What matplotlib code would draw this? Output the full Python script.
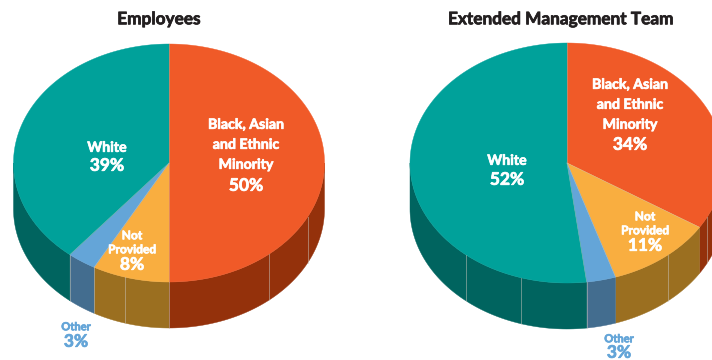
import numpy as np
import matplotlib
matplotlib.use("Agg")
import matplotlib.pyplot as plt
import matplotlib.patheffects as pe

# Share of each group, clockwise from 12 o'clock
GROUPS = ["Black, Asian and Ethnic Minority", "Not Provided", "Other", "White"]
EMPLOYEES = [50, 8, 3, 39]
MANAGEMENT = [34, 11, 3, 52]

TOP_COLORS = ["#f05a28", "#f9ae40", "#64a5d8", "#00a19a"]
SIDE_COLORS = ["#94310b", "#9b6f20", "#436d8f", "#00645f"]
SEAM = "#c9c4bb"
DEPTH = 46

plt.rcParams["font.family"] = ["Lato", "DejaVu Sans"]

fig = plt.figure(figsize=(7.12, 3.6), dpi=100)
ax = fig.add_axes([0, 0, 1, 1])
ax.set_xlim(0, 712)
ax.set_ylim(360, 0)
ax.axis("off")


def rim(cx, cy, rx, ry, deg):
    """Point(s) on the top ellipse, angle in degrees clockwise from the top."""
    t = np.radians(deg)
    return cx + rx * np.sin(t), cy - ry * np.cos(t)


def draw_pie(values, cx, cy, rx, ry, seams):
    angles = np.concatenate([[0], np.cumsum(values) * 3.6])

    # side wall first, only the front half of the rim is visible
    for i in range(len(values)):
        a0, a1 = max(angles[i], 90), min(angles[i + 1], 270)
        if a1 <= a0:
            continue
        x, y = rim(cx, cy, rx, ry, np.linspace(a0, a1, 80))
        ax.fill(np.r_[x, x[::-1]], np.r_[y, y[::-1] + DEPTH],
                color=SIDE_COLORS[i], lw=0.3, zorder=1)

    # top face
    for i in range(len(values)):
        x, y = rim(cx, cy, rx, ry, np.linspace(angles[i], angles[i + 1], 160))
        ax.fill(np.r_[cx, x], np.r_[cy, y], color=TOP_COLORS[i], lw=0.3, zorder=2)
        ax.plot([cx, x[0]], [cy, y[0]], color=SEAM, lw=0.4, alpha=0.6, zorder=3)

    # faint vertical joins on the wall
    for deg in seams:
        x, y = rim(cx, cy, rx, ry, deg)
        ax.plot([x, x], [y, y + DEPTH], color=SEAM, lw=0.6, alpha=0.6, zorder=3)


def label(x, y, text, size=10.2, color="white"):
    # stroke in the text colour, the installed Lato is lighter than the heading weight
    ax.text(x, y + 0.8, text, ha="center", va="center", fontsize=size, fontweight="bold",
            color=color, zorder=4,
            path_effects=[pe.withStroke(linewidth=0.5, foreground=color)])


# Employees
draw_pie(EMPLOYEES, 169, 163, 155.5, 119, [180, 208.8, 219.6, 196.6, 139.8, 117])
label(159, 18.5, "Employees", 12.4, "#231f20")
label(246, 124, "Black, Asian")
label(246, 144, "and Ethnic")
label(246, 164, "Minority")
label(246, 185, "50%", 12.5)
label(107, 147, "White")
label(107, 165, "39%", 12.5)
label(132, 235, "Not", 8.6)
label(132, 249, "Provided", 8.6)
label(132, 264, "8%", 12.5)
label(76, 326, "Other", 8, "#64a5d8")
label(76, 341, "3%", 12.5, "#64a5d8")

# Extended Management Team
draw_pie(MANAGEMENT, 567, 163, 157, 120, [172.8, 197, 220, 140, 117])
label(561, 18.5, "Extended Management Team", 12.4, "#231f20")
label(630, 84, "Black, Asian")
label(630, 104, "and Ethnic")
label(630, 124, "Minority")
label(630, 144, "34%", 12.5)
label(507, 160, "White")
label(507, 179, "52%", 12.5)
label(645, 216, "Not", 8.6)
label(645, 230, "Provided", 8.6)
label(645, 245, "11%", 12.5)
label(619, 338, "Other", 8, "#64a5d8")
label(619, 352, "3%", 12.5, "#64a5d8")

fig.savefig("out.png", dpi=100)
